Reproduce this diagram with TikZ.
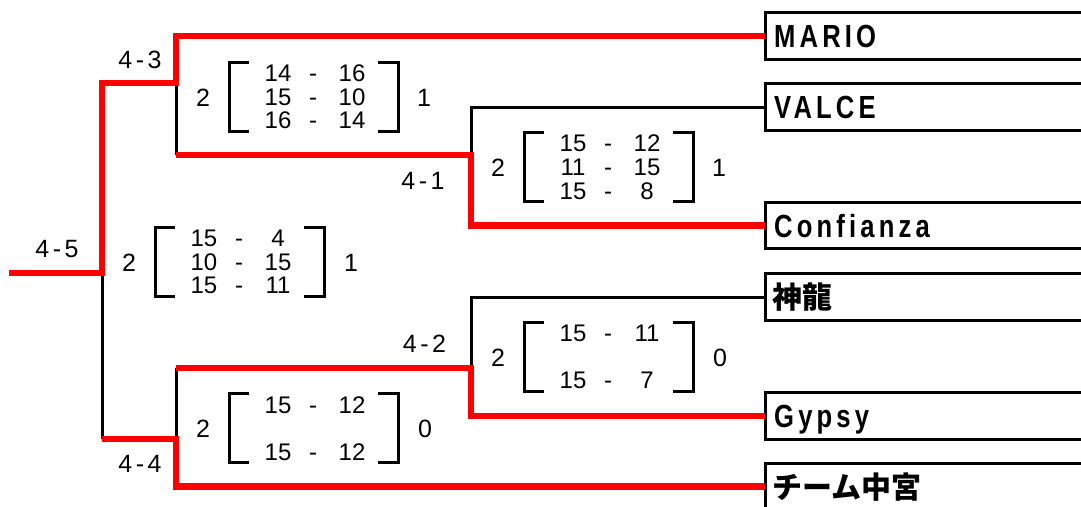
\documentclass[tikz,border=0pt]{standalone}
\usepackage{fontspec}
\setmainfont{Liberation Sans}
\newfontfamily\teamfont[FakeStretch=0.8,LetterSpace=13]{Liberation Sans}
\newfontfamily\lblfont[LetterSpace=14]{Liberation Sans}
\newfontfamily\cjkfont{Noto Sans CJK JP}
\usetikzlibrary{calc}
\tikzset{
  win/.style={draw=red, line width=6.5pt},
  lose/.style={draw=black, line width=3pt},
  brk/.style={draw=black, line width=3pt},
  boxline/.style={draw=black, line width=3pt},
  team/.style={anchor=west, minimum height=46.5pt, text width=320pt, inner xsep=9pt, inner ysep=0pt, align=left, text height=23pt, text depth=0pt, font=\teamfont\bfseries\fontsize{32}{32}\selectfont},
  jteam/.style={team, font=\cjkfont\bfseries\fontsize{30}{30}\selectfont, inner xsep=7pt},
  lbl/.style={inner sep=0pt, font=\lblfont\fontsize{25}{25}\selectfont, text height=18pt, text depth=0pt},
  cnt/.style={inner sep=0pt, font=\fontsize{25}{25}\selectfont, text height=18pt, text depth=0pt},
  sc/.style={inner sep=0pt, font=\fontsize{24}{24}\selectfont, text height=17pt, text depth=0pt},
}
\newcommand\srow[4]{%
  \node[sc] (#1a) at (75,#2) {#3};
  \node[sc] (#1d) at (110,#2) {-};
  \node[sc] (#1b) at (149,#2) {#4};}
\newcommand\brackets{%
  \draw[brk] (46,-35) -- (26,-35) -- (26,34) -- (46,34);
  \draw[brk] (175,-35) -- (195,-35) -- (195,34) -- (175,34);}
\begin{document}
\begin{tikzpicture}[x=1pt,y=-1pt]
\useasboundingbox (0,0) rectangle (1081,506);
% team boxes
\node[team]  (mario)     at (765,36)    {MARIO};
\node[team]  (valce)     at (765,107)   {VALCE};
\node[team]  (confianza) at (765,225.5) {Confianza};
\node[jteam] (shinryu)   at (765,297)   {神龍};
\node[team]  (gypsy)     at (765,416)   {Gypsy};
\node[jteam] (chugu)     at (765,486.5) {チーム中宮};
\foreach \t in {mario,valce,confianza,shinryu,gypsy,chugu}{
  \draw[boxline] (\t.north east) -- (\t.north west) -- (\t.south west) -- (\t.south east);
}
% junctions
\coordinate (c45) at (9,273);
\coordinate (j45) at (102,273);
\coordinate (j43) at (176,83);
\coordinate (j41) at (471,155);
\coordinate (j44) at (176,439);
\coordinate (j42) at (471,368);
% losing paths
\draw[lose] (j43) -- (j43 |- j41);
\draw[lose] (j41) |- (valce.west);
\draw[lose] (j45) -- (j45 |- j44);
\draw[lose] (j44) -- (j44 |- j42);
\draw[lose] (j42) |- (shinryu.west);
% winning paths
\draw[win] (c45) -- (j45) |- (j43) |- (mario.west);
\draw[win] (j43 |- j41) -- (j41) |- (confianza.west);
\draw[win] (j45 |- j44) -- (j44) |- (chugu.west);
\draw[win] (j44 |- j42) -- (j42) |- (gypsy.west);
% match labels
\node[lbl] (m45) at (57,248.5) {4-5};
\node[lbl] (m43) at (140,59.5) {4-3};
\node[lbl] (m44) at (140,463) {4-4};
\node[lbl] (m41) at (423,180.5) {4-1};
\node[lbl] (m42) at (424.5,343) {4-2};
% score blocks
\begin{scope}[shift={(203,97)}]
  \node[cnt] (b43l) at (0,0) {2};
  \node[cnt] (b43r) at (221,0) {1};
  \brackets
  \srow{b43r1}{-24}{14}{16}
  \srow{b43r2}{0}{15}{10}
  \srow{b43r3}{23}{16}{14}
\end{scope}
\begin{scope}[shift={(498,167)}]
  \node[cnt] (b41l) at (0,0) {2};
  \node[cnt] (b41r) at (221,0) {1};
  \brackets
  \srow{b41r1}{-24}{15}{12}
  \srow{b41r2}{0}{11}{15}
  \srow{b41r3}{24}{15}{8}
\end{scope}
\begin{scope}[shift={(129,262)}]
  \node[cnt] (b45l) at (0,0) {2};
  \node[cnt] (b45r) at (222,0) {1};
  \brackets
  \srow{b45r1}{-24}{15}{4}
  \srow{b45r2}{0}{10}{15}
  \srow{b45r3}{23}{15}{11}
\end{scope}
\begin{scope}[shift={(203,428)}]
  \node[cnt] (b44l) at (0,0) {2};
  \node[cnt] (b44r) at (222,0) {0};
  \brackets
  \srow{b44r1}{-23}{15}{12}
  \srow{b44r2}{24}{15}{12}
\end{scope}
\begin{scope}[shift={(498,357)}]
  \node[cnt] (b42l) at (0,0) {2};
  \node[cnt] (b42r) at (222,0) {0};
  \brackets
  \srow{b42r1}{-24}{15}{11}
  \srow{b42r2}{23}{15}{7}
\end{scope}
\end{tikzpicture}
\end{document}
